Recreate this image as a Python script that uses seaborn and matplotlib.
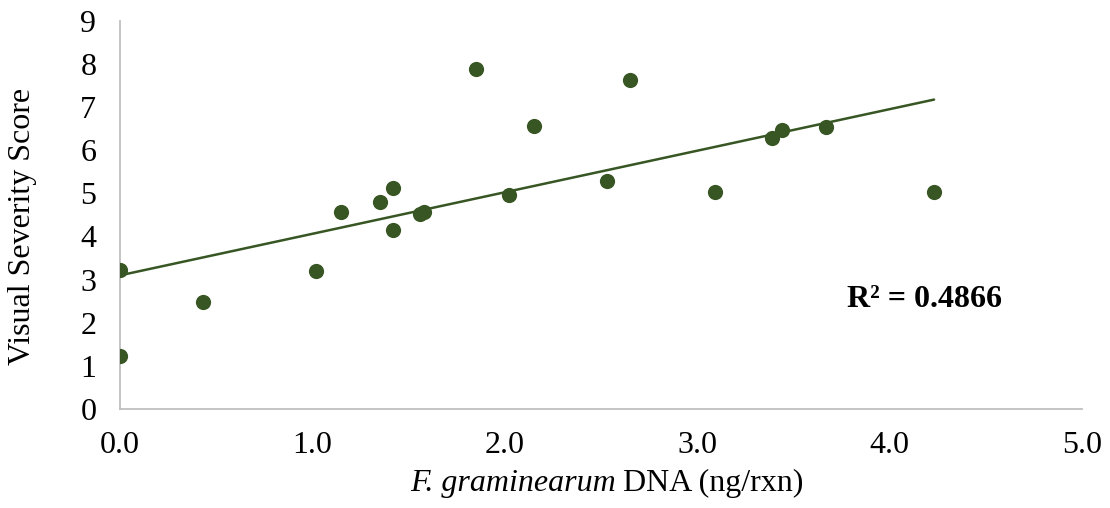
import matplotlib
matplotlib.use("Agg")
import matplotlib.pyplot as plt
import seaborn as sns
import pandas as pd

# F. graminearum DNA (ng/rxn) and visual severity score per sample
dna_ng = [0.00, 0.00, 0.43, 1.02, 1.15, 1.35, 1.42, 1.42, 1.56, 1.58,
          1.85, 2.02, 2.15, 2.53, 2.65, 3.09, 3.39, 3.44, 3.67, 4.23]
severity = [3.23, 1.23, 2.47, 3.21, 4.56, 4.81, 5.12, 4.14, 4.53, 4.56,
            7.88, 4.95, 6.56, 5.28, 7.63, 5.02, 6.28, 6.47, 6.53, 5.02]
x_ticks = [0.0, 1.0, 2.0, 3.0, 4.0, 5.0]
y_ticks = [0, 1, 2, 3, 4, 5, 6, 7, 8, 9]
r2_label = "R² = 0.4866"

df = pd.DataFrame({"dna": dna_ng, "score": severity})

sns.set_theme(style="white")
plt.rcParams["font.family"] = ["Liberation Serif", "DejaVu Serif"]
plt.rcParams["text.color"] = "black"

green = "#375623"
axis_grey = "#BFBFBF"
fs = 23

fig = plt.figure(figsize=(11.10, 5.08), dpi=100)
ax = fig.add_axes([0.108, 0.195, 0.867, 0.764])

sns.regplot(data=df, x="dna", y="score", ax=ax, ci=None, truncate=True,
            color=green,
            scatter_kws={"s": 120, "alpha": 1, "linewidths": 0, "zorder": 3},
            line_kws={"linewidth": 1.8, "zorder": 2})

ax.set_xlim(0, 5)
ax.set_ylim(0, 9)
ax.set_xticks(x_ticks)
ax.set_xticklabels([f"{t:.1f}" for t in x_ticks])
ax.set_yticks(y_ticks)
ax.set_yticklabels([str(t) for t in y_ticks])
ax.tick_params(axis="both", length=0, labelsize=fs, colors="black")
ax.tick_params(axis="x", pad=16)
ax.tick_params(axis="y", pad=17)

for side in ("top", "right"):
    ax.spines[side].set_visible(False)
for side in ("left", "bottom"):
    ax.spines[side].set_visible(True)
    ax.spines[side].set_color(axis_grey)
    ax.spines[side].set_linewidth(1.3)

# Axis titles: species name in italics, units upright
ax.set_xlabel("")
ax.set_ylabel("")
base_y = 1 - 491 / 508
fig.text(616 / 1110, base_y, "F. graminearum", fontsize=fs, style="italic",
         ha="right", va="baseline")
fig.text(623 / 1110, base_y, "DNA (ng/rxn)", fontsize=fs,
         ha="left", va="baseline")
fig.text(23 / 1110, 1 - 226 / 508, "Visual Severity Score",
         fontsize=fs, rotation=90, ha="center", va="center")

ax.text(4.18, 2.53, r2_label, fontsize=fs, fontweight="bold",
        ha="center", va="center")

fig.savefig("out.png", dpi=100, facecolor="white")
